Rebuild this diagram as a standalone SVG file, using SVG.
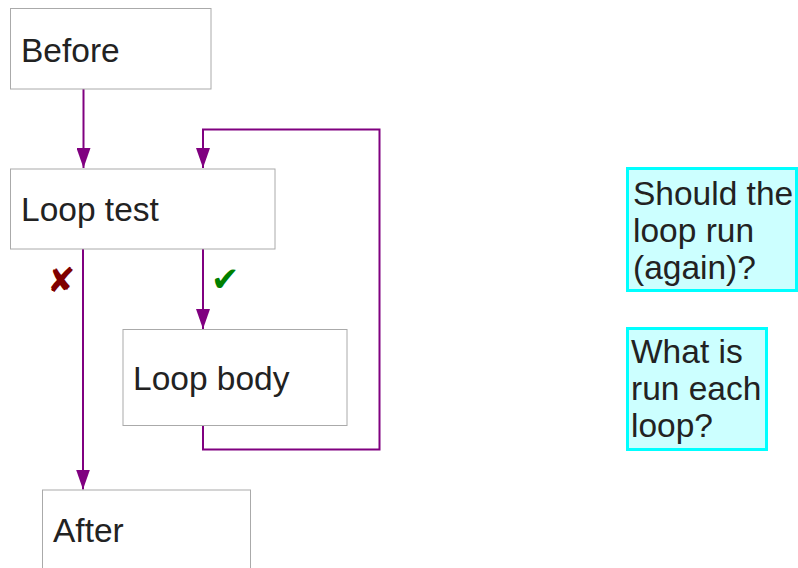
<svg xmlns="http://www.w3.org/2000/svg" width="798" height="568" viewBox="0 0 798 568">
<style>
.node rect{fill:#fff;stroke:#aaa;stroke-width:1}
.note rect{fill:#ccffff;stroke:#00ffff;stroke-width:3}
text{font-family:"Liberation Sans",Arial,sans-serif;font-size:33.5px;fill:#222}
.edge{fill:none;stroke:#800080;stroke-width:2}
.mark{font-family:"DejaVu Sans",sans-serif;font-size:34px;font-weight:bold}
</style>
<defs>
<marker id="ah" markerUnits="userSpaceOnUse" markerWidth="20" markerHeight="14" refX="20" refY="7" orient="auto" viewBox="0 0 20 14">
<path d="M0,0 L20,7 L0,14 Z" fill="#800080"/>
</marker>
</defs>
<g id="connectors">
<path class="edge" d="M83.5,89 V168" marker-end="url(#ah)"/>
<path class="edge" d="M203,425 V449.5 H379.5 V129.5 H203 V168" marker-end="url(#ah)"/>
<path class="edge" d="M203,249 V329" marker-end="url(#ah)"/>
<path class="edge" d="M83,249 V489.5" marker-end="url(#ah)"/>
<text class="mark" x="47" y="292" style="fill:#800000">✘</text>
<text class="mark" x="211" y="291" style="fill:#008000">✔</text>
</g>
<g id="before" class="node"><rect x="10.5" y="8.5" width="200.5" height="80.5"/><text x="21" y="62">Before</text></g>
<g id="looptest" class="node"><rect x="10.5" y="169" width="264.5" height="80"/><text x="21" y="221">Loop test</text></g>
<g id="loopbody" class="node"><rect x="123" y="329.5" width="224" height="96"/><text x="133" y="390">Loop body</text></g>
<g id="after" class="node"><rect x="42.5" y="490" width="208" height="100"/><text x="53" y="541.5">After</text></g>
<g id="note1" class="note"><rect x="627.5" y="168.5" width="169" height="122"/><text x="633" y="205">Should the</text><text x="633" y="242">loop run</text><text x="633" y="279">(again)?</text></g>
<g id="note2" class="note"><rect x="627.5" y="328.5" width="139" height="121"/><text x="631" y="363">What is</text><text x="631" y="400">run each</text><text x="631" y="437">loop?</text></g>
</svg>
